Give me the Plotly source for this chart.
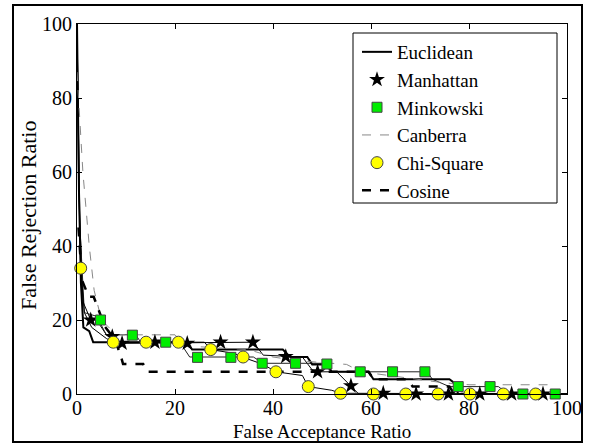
import plotly.graph_objects as go

# ---- data ----
euc_x = [0, 0.4, 0.8, 1.3, 2.5, 3.3, 22.5, 23.5, 42, 43.5, 47, 48, 51, 52, 59.5, 60.5, 76, 77, 77.8, 100]
euc_y = [100, 55, 30, 18, 17, 14, 14, 12, 12, 10, 10, 8, 8, 6, 6, 4, 4, 3, 0, 0]

man_x = [0, 0.5, 1.2, 2.8, 4, 6, 7.2, 8, 9.2, 36, 38, 42.6, 46, 48, 49.1, 53, 55.9, 57.5, 100]
man_y = [100, 50, 25, 20, 20, 16, 15.5, 14, 13.7, 14, 10.5, 10.1, 10, 6.5, 6, 6, 2.2, 0, 0]
man_mx = [2.8, 7.2, 9.2, 15.9, 22.5, 29.3, 35.9, 42.6, 49.1, 55.9, 62.5, 69.2, 75.8, 82.2, 88.7, 95.1]
man_my = [20, 15.5, 13.7, 14, 13.7, 14, 14, 10.1, 6, 2.2, 0.2, 0, 0, 0, 0, 0]

min_x = [0, 0.6, 1.5, 4, 6, 12, 13, 21, 23, 36, 38, 50, 52, 71.5, 72.5, 76, 86, 88, 100]
min_y = [100, 45, 22, 21, 16, 16, 14, 14, 10, 10, 8.3, 8.3, 6, 6, 4, 2, 2, 0, 0]
min_mx = [4.8, 11.3, 18.1, 24.6, 31.4, 37.8, 44.6, 51, 57.8, 64.4, 71, 77.8, 84.3, 91, 97.6]
min_my = [20, 15.9, 14, 9.9, 9.9, 8.3, 8.3, 8.1, 6, 6, 6, 2, 2, 0, 0]

can_x = [0, 1.2, 2.5, 3.5, 5, 8, 20, 22, 35, 40, 45, 50, 55, 58, 75, 80, 96, 97, 100]
can_y = [87, 60, 40, 28, 20, 16, 16, 13, 12, 10, 9, 8.5, 8, 6, 3, 2.5, 2.5, 0, 0]

chi_x = [0, 0.3, 0.75, 1.5, 3, 6, 7.4, 26, 27.3, 32, 33.9, 38, 40.6, 46, 47.2, 52, 53.8, 100]
chi_y = [100, 60, 34, 22, 18, 15, 14, 14, 12, 11, 9.9, 8, 6, 5, 2, 1, 0.2, 0]
chi_mx = [0.75, 7.4, 14.1, 20.7, 27.3, 33.9, 40.6, 47.2, 53.8, 60.5, 67.1, 73.7, 80.2, 87, 93.6]
chi_my = [34, 14, 14, 14, 12, 10, 6, 2, 0.2, 0, 0, 0, 0, 0, 0]

cos_x = [0.3, 1, 2.4, 3.4, 5.7, 7.5, 8.8, 9.4, 13.5, 14.3, 59.5, 60.5, 67.5, 68.5, 76, 77, 100]
cos_y = [45, 30.8, 26.3, 26.3, 18.2, 15.1, 11, 8.1, 8.1, 6, 6, 4, 4, 2, 2, 0, 0]

x_ticks = [0, 20, 40, 60, 80, 100]
y_ticks = [0, 20, 40, 60, 80, 100]
x_title = "False Acceptance Ratio"
y_title = "False Rejection Ratio"

FONT = "Liberation Serif, Times New Roman, serif"

# plot-area geometry in pixels (used only for paper-coordinate conversion)
L, R, T, B = 77, 567, 24, 394
W, H = R - L, B - T


def px_x(p):
    return (p - L) / W


def px_y(p):
    return (B - p) / H


fig = go.Figure()

# lines (no legend)
fig.add_trace(go.Scatter(x=man_x, y=man_y, mode="lines", line=dict(color="black", width=1), showlegend=False, hoverinfo="skip"))
fig.add_trace(go.Scatter(x=min_x, y=min_y, mode="lines", line=dict(color="#222222", width=1), showlegend=False, hoverinfo="skip"))
fig.add_trace(go.Scatter(x=chi_x, y=chi_y, mode="lines", line=dict(color="black", width=1), showlegend=False, hoverinfo="skip"))

# legend traces in order
fig.add_trace(go.Scatter(x=euc_x, y=euc_y, mode="lines", name="Euclidean",
                         line=dict(color="black", width=2), legendrank=1))
fig.add_trace(go.Scatter(x=can_x, y=can_y, mode="lines", name="Canberra",
                         line=dict(color="#888888", width=1, dash="dash"), legendrank=4))
fig.add_trace(go.Scatter(x=cos_x, y=cos_y, mode="lines", name="Cosine",
                         line=dict(color="black", width=2.5, dash="dash"), legendrank=6))
fig.add_trace(go.Scatter(x=man_mx, y=man_my, mode="markers", name="Manhattan", cliponaxis=False,
                         marker=dict(symbol="star", size=12, color="black"), legendrank=2))
fig.add_trace(go.Scatter(x=min_mx, y=min_my, mode="markers", name="Minkowski", cliponaxis=False,
                         marker=dict(symbol="square", size=10, color="#00ee00",
                                     line=dict(color="#444444", width=1)), legendrank=3))
fig.add_trace(go.Scatter(x=chi_mx, y=chi_my, mode="markers", name="Chi-Square", cliponaxis=False,
                         marker=dict(symbol="circle", size=12, color="#ffff00",
                                     line=dict(color="#444444", width=1)), legendrank=5))

axis_common = dict(range=[0, 100], showgrid=False, zeroline=False, showline=True, mirror="ticks",
                   linecolor="black", linewidth=1, ticks="inside", ticklen=5, tickcolor="black",
                   automargin=False,
                   tickfont=dict(family=FONT, size=20, color="black"))

fig.update_layout(
    width=590, height=445,
    margin=dict(l=L, r=590 - R, t=T, b=445 - B),
    paper_bgcolor="white", plot_bgcolor="white",
    font=dict(family=FONT, size=20, color="black"),
    xaxis=dict(**axis_common, tickvals=x_ticks, ticklabelstandoff=-4),
    yaxis=dict(**axis_common, tickvals=y_ticks),
    legend=dict(x=px_x(357), y=px_y(33), xanchor="left", yanchor="top",
                bgcolor="rgba(0,0,0,0)", borderwidth=0, font=dict(family=FONT, size=19),
                tracegroupgap=0),
    annotations=[
        dict(text=x_title, xref="paper", yref="paper", x=px_x(322), y=px_y(431),
             xanchor="center", yanchor="middle", showarrow=False,
             font=dict(family=FONT, size=19, color="black")),
        dict(text=y_title, xref="paper", yref="paper", x=px_x(28), y=px_y(216),
             xanchor="center", yanchor="middle", showarrow=False, textangle=-90,
             font=dict(family=FONT, size=22, color="black")),
    ],
    shapes=[
        dict(type="rect", xref="paper", yref="paper",
             x0=px_x(13), x1=px_x(582), y0=px_y(442), y1=px_y(5),
             line=dict(color="black", width=2), fillcolor="rgba(0,0,0,0)", layer="below"),
        dict(type="rect", xref="paper", yref="paper",
             x0=px_x(353), x1=px_x(557), y0=px_y(203), y1=px_y(33),
             line=dict(color="black", width=1), fillcolor="white", layer="above"),
    ],
)

fig.write_html("out.html")
